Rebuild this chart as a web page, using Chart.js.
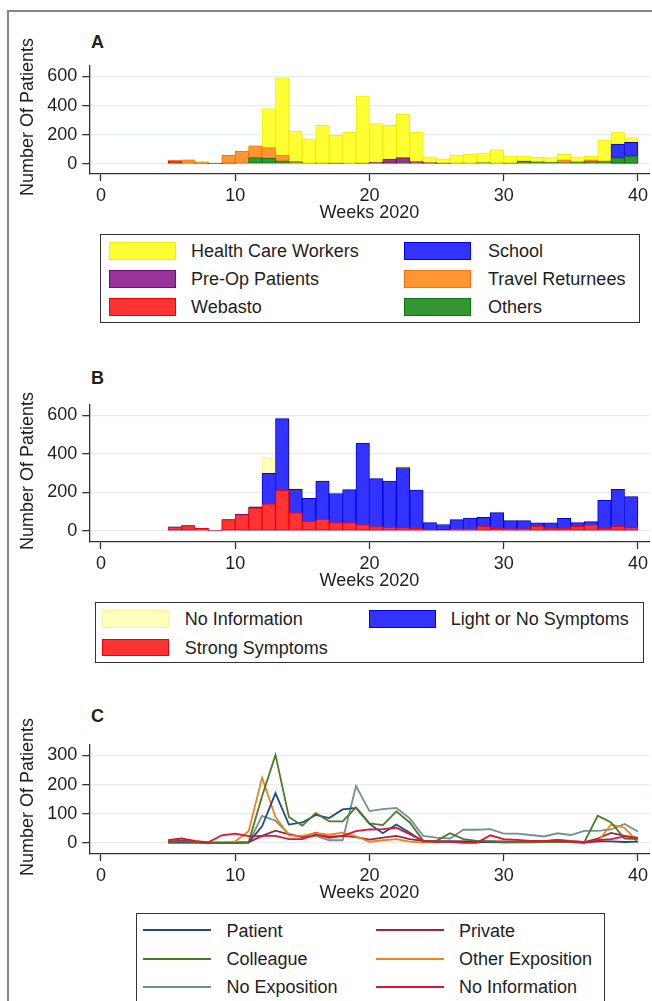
<!DOCTYPE html>
<html><head><meta charset="utf-8">
<script src="https://cdn.jsdelivr.net/npm/chart.js@4.4.0/dist/chart.umd.min.js"></script>
<style>
html,body{margin:0;padding:0;background:#fff;}
#root{position:relative;width:652px;height:1001px;overflow:hidden;background:#fff;font-family:"Liberation Sans",Arial,sans-serif;color:#1e1e1e;}
#frame{position:absolute;left:7px;top:10px;width:800px;height:1200px;border:2px solid #868686;}
canvas{position:absolute;left:0;}
.letter{position:absolute;left:91px;font-weight:bold;font-size:18px;line-height:18px;}
.legend{position:absolute;border:1.5px solid #333;box-sizing:border-box;}
.item{position:absolute;font-size:18px;line-height:20px;white-space:nowrap;}
.sw{position:absolute;box-sizing:border-box;}
.ytitle{position:absolute;left:27px;font-size:18px;line-height:20px;white-space:nowrap;transform:translate(-50%,-50%) rotate(-90deg);}
</style></head><body>
<div id="root">
  <div id="frame"></div>
  <div class="letter" style="top:32.7px">A</div>
  <div class="letter" style="top:368.7px">B</div>
  <div class="letter" style="top:707px">C</div>
  <canvas id="cA" width="652" height="174" style="top:50px"></canvas>
  <canvas id="cB" width="652" height="203" style="top:389.3px"></canvas>
  <canvas id="cC" width="652" height="175" style="top:729px"></canvas>
  <div class="ytitle" style="top:117px">Number Of Patients</div>
  <div class="ytitle" style="top:470.8px">Number Of Patients</div>
  <div class="ytitle" style="top:796.5px">Number Of Patients</div>
</div>
<script>
// ---------- data ----------
const xTicks = [0, 10, 20, 30, 40];
const yTicksAB = [0, 200, 400, 600];
const yTicksC = [0, 100, 200, 300];
const binWidth = 1;
// histogram bins (start week of each weekly bin)
const barWeeks = [5,6,7,8,9,10,11,12,13,14,15,16,17,18,19,20,21,22,23,24,25,26,27,28,29,30,31,32,33,34,35,36,37,38,39];
// Panel A
const hcw     = [22,28,13,3,59,87,124,380,591,224,172,265,198,217,465,276,265,341,217,48,35,61,67,74,98,54,54,46,43,65,48,52,163,220,180];
const school  = [0,0,0,0,0,0,0,0,0,0,0,0,0,0,0,0,0,0,0,0,0,0,0,0,0,0,0,0,0,0,0,0,0,135,148];
const preop   = [0,0,0,0,0,0,0,0,0,0,0,0,0,0,0,12,33,43,15,8,0,0,0,0,0,0,0,0,0,0,0,0,0,45,56];
const travel  = [22,28,13,3,59,87,124,111,61,17,5,3,3,5,5,5,3,5,5,3,3,5,5,5,5,5,20,15,12,28,15,28,20,0,0];
const webasto = [20,0,0,0,0,0,0,0,0,0,0,0,0,0,0,0,0,0,0,0,0,0,0,0,0,0,0,0,0,0,0,0,0,0,0];
const others  = [5,5,3,2,3,5,43,39,20,8,5,5,3,5,3,5,5,8,5,5,3,5,5,8,5,3,18,12,10,8,10,15,15,41,54];
// Panel B
const noInfoB = [21,28,13,2,59,87,125,377,588,221,169,261,194,214,456,271,259,335,212,43,33,60,66,70,95,53,53,42,42,65,43,48,159,216,178];
const lightB  = [21,28,13,2,59,87,125,299,583,216,169,259,194,214,456,271,259,329,212,43,33,58,66,70,95,53,53,42,42,65,43,48,159,216,178];
const strongB = [20,27,13,2,58,85,120,141,211,95,51,61,43,43,33,22,20,17,13,7,3,10,10,23,13,12,12,25,15,15,23,32,15,23,18];
// Panel C (weekly counts)
const lineWeeks = [5,6,7,8,9,10,11,12,13,14,15,16,17,18,19,20,21,22,23,24,25,26,27,28,29,30,31,32,33,34,35,36,37,38,39,40];
const patient   = [2,3,2,0,0,0,2,57,171,63,70,96,85,115,120,65,33,63,35,5,4,5,4,3,3,2,2,2,3,3,3,2,5,5,3,4];
const colleague = [2,5,3,0,0,0,2,160,302,89,59,102,74,74,122,67,61,108,70,8,7,33,13,7,5,3,3,3,3,3,3,2,93,70,15,13];
const noExpo    = [0,0,0,0,0,0,0,93,76,30,20,24,9,9,195,109,116,120,84,24,18,15,45,45,47,32,32,27,22,33,27,41,41,46,65,39];
const privateC  = [4,8,4,2,2,2,2,24,42,29,20,35,21,24,20,11,18,24,13,7,5,5,5,5,5,5,5,5,5,10,7,3,15,34,24,17];
const otherExpo = [0,0,0,0,0,5,40,224,89,26,24,33,28,35,22,4,9,13,4,2,2,3,3,5,5,2,3,3,3,5,5,2,4,63,52,2];
const noInfoC   = [9,15,7,2,26,32,23,24,24,13,13,28,17,24,40,46,47,52,30,7,4,4,0,0,26,13,10,7,7,9,4,0,9,13,22,17];

// ---------- styles ----------
const C = {
  yellow:  ['rgb(255,255,51)', 'rgb(240,240,0)'],
  blue:    ['rgb(51,51,255)', 'rgb(0,0,230)'],
  purple:  ['rgb(153,51,153)', 'rgb(120,10,120)'],
  orange:  ['rgb(255,150,50)', 'rgb(245,120,10)'],
  red:     ['rgb(255,51,51)', 'rgb(240,0,0)'],
  green:   ['rgb(51,150,51)', 'rgb(10,120,10)'],
  lyellow: ['rgb(255,255,190)', 'rgb(250,245,150)']
};
const LC = {
  patient: 'rgb(30,75,135)', private: 'rgb(150,40,65)', colleague: 'rgb(80,120,40)',
  other: 'rgb(240,130,25)', noexpo: 'rgb(112,148,138)', noinfo: 'rgb(220,20,55)'
};

Chart.defaults.font.family = '"Liberation Sans", Arial, sans-serif';
Chart.defaults.font.size = 18;
Chart.defaults.color = '#1e1e1e';

const X_MIN = -0.87, X_MAX = 40.87;

function scales(yMin, yMax, yTicks) {
  return {
    x: {
      type: 'linear', min: X_MIN, max: X_MAX, offset: false,
      afterBuildTicks: s => { s.ticks = xTicks.map(v => ({value: v})); },
      afterFit: s => { s.height = 50; },
      grid: { display: true, drawOnChartArea: false, drawTicks: true, tickLength: 7, tickColor: '#333', tickWidth: 1.3, offset: false },
      border: { display: true, color: '#333', width: 1.3 },
      ticks: { padding: 4, maxRotation: 0, autoSkip: false, color: '#1e1e1e' },
      title: { display: true, text: 'Weeks 2020', padding: {top: 0, bottom: 0}, color: '#1e1e1e' }
    },
    y: {
      type: 'linear', min: yMin, max: yMax,
      afterBuildTicks: s => { s.ticks = yTicks.map(v => ({value: v})); },
      afterFit: s => { s.width = 89.3; },
      grid: { color: '#e4eef2', lineWidth: 1.3, drawTicks: true, tickLength: 7, tickColor: '#333', tickWidth: 1.3 },
      border: { display: true, color: '#333', width: 1.3 },
      ticks: { padding: 5, color: '#1e1e1e' },
      title: { display: false }
    }
  };
}

function barSet(label, vals, col, order) {
  return {
    label, order,
    data: barWeeks.map((w, i) => ({x: w + binWidth / 2, y: vals[i]})),
    backgroundColor: col[0], borderColor: col[1], borderWidth: 1,
    borderSkipped: false, grouped: false, barPercentage: 1, categoryPercentage: 1
  };
}
function lineSet(label, vals, color) {
  return {
    type: 'line', label,
    data: lineWeeks.map((w, i) => ({x: w, y: vals[i]})),
    borderColor: color, borderWidth: 1.8, pointRadius: 0, fill: false, tension: 0
  };
}
const common = {
  responsive: false, animation: false, events: [],
  plugins: { legend: { display: false }, tooltip: { enabled: false } }
};

new Chart(document.getElementById('cA'), {
  type: 'bar',
  data: { datasets: [
    barSet('Health Care Workers', hcw, C.yellow, 5),
    barSet('School', school, C.blue, 4),
    barSet('Travel Returnees', travel, C.orange, 3),
    barSet('Pre-Op Patients', preop, C.purple, 2),
    barSet('Webasto', webasto, C.red, 1),
    barSet('Others', others, C.green, 0)
  ]},
  options: Object.assign({}, common, {
    layout: { padding: {top: 10, right: 2, left: 0, bottom: 0} },
    scales: scales(-69.8, 673.7, yTicksAB)
  })
});

new Chart(document.getElementById('cB'), {
  type: 'bar',
  data: { datasets: [
    barSet('No Information', noInfoB, C.lyellow, 2),
    barSet('Light or No Symptoms', lightB, C.blue, 1),
    barSet('Strong Symptoms', strongB, C.red, 0)
  ]},
  options: Object.assign({}, common, {
    layout: { padding: {top: 10, right: 2, left: 0, bottom: 0} },
    scales: scales(-57.8, 654.8, yTicksAB)
  })
});

new Chart(document.getElementById('cC'), {
  type: 'line',
  data: { datasets: [
    lineSet('No Information', noInfoC, LC.noinfo),
    lineSet('Colleague', colleague, LC.colleague),
    lineSet('Patient', patient, LC.patient),
    lineSet('Other Exposition', otherExpo, LC.other),
    lineSet('Private', privateC, LC.private),
    lineSet('No Exposition', noExpo, LC.noexpo)
  ]},
  options: Object.assign({}, common, {
    layout: { padding: {top: 10, right: 2, left: 0, bottom: 0} },
    scales: scales(-38.2, 336.8, yTicksC)
  })
});

// ---------- legends (HTML, real text) ----------
const root = document.getElementById('root');
function legend(box, cfg, items) {
  const b = document.createElement('div');
  b.className = 'legend';
  Object.assign(b.style, {left: box[0] + 'px', top: box[1] + 'px', width: box[2] + 'px', height: box[3] + 'px'});
  root.appendChild(b);
  items.forEach(it => {
    const cy = cfg.rows[it.row];
    const sw = document.createElement('div');
    sw.className = 'sw';
    if (it.line) {
      Object.assign(sw.style, {left: cfg.swX[it.col] + 'px', top: (cy - 1) + 'px', width: cfg.swW + 'px', height: '2px', background: it.line});
    } else {
      Object.assign(sw.style, {left: cfg.swX[it.col] + 'px', top: (cy - cfg.swH / 2) + 'px', width: cfg.swW + 'px', height: cfg.swH + 'px', background: it.fill[0], border: '1px solid ' + it.fill[1]});
    }
    root.appendChild(sw);
    const t = document.createElement('div');
    t.className = 'item';
    t.textContent = it.label;
    Object.assign(t.style, {left: cfg.txtX[it.col] + 'px', top: (cy - 9.8) + 'px'});
    root.appendChild(t);
  });
}
legend([100, 234.3, 539.5, 89], {rows: [250.7, 279, 306.7], swX: [108.5, 404], swW: 67, swH: 17.7, txtX: [191, 488]}, [
  {label: 'Health Care Workers', fill: C.yellow, col: 0, row: 0},
  {label: 'Pre-Op Patients', fill: C.purple, col: 0, row: 1},
  {label: 'Webasto', fill: C.red, col: 0, row: 2},
  {label: 'School', fill: C.blue, col: 1, row: 0},
  {label: 'Travel Returnees', fill: C.orange, col: 1, row: 1},
  {label: 'Others', fill: C.green, col: 1, row: 2}
]);
legend([94.8, 602.3, 549.5, 60.5], {rows: [619, 647.3], swX: [102.4, 368.6], swW: 67, swH: 17.3, txtX: [184.8, 450.7]}, [
  {label: 'No Information', fill: C.lyellow, col: 0, row: 0},
  {label: 'Strong Symptoms', fill: C.red, col: 0, row: 1},
  {label: 'Light or No Symptoms', fill: C.blue, col: 1, row: 0}
]);
legend([135.6, 913.3, 469, 100], {rows: [930.3, 958.7, 986.7], swX: [143, 375.8], swW: 68, swH: 2, txtX: [226.4, 459]}, [
  {label: 'Patient', line: LC.patient, col: 0, row: 0},
  {label: 'Colleague', line: LC.colleague, col: 0, row: 1},
  {label: 'No Exposition', line: LC.noexpo, col: 0, row: 2},
  {label: 'Private', line: LC.private, col: 1, row: 0},
  {label: 'Other Exposition', line: LC.other, col: 1, row: 1},
  {label: 'No Information', line: LC.noinfo, col: 1, row: 2}
]);
</script>
</body></html>
